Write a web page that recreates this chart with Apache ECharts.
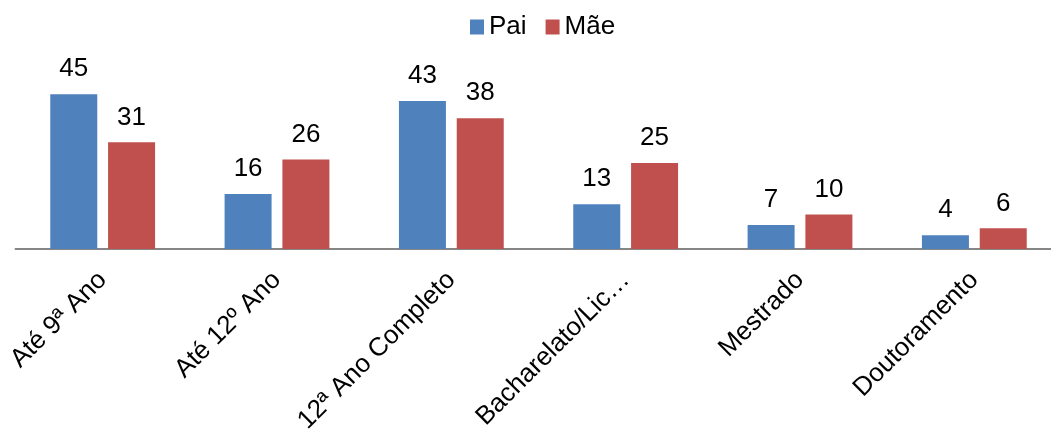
<!DOCTYPE html>
<html><head><meta charset="utf-8">
<script src="https://cdn.jsdelivr.net/npm/echarts@6/dist/echarts.min.js"></script>
<style>html,body{margin:0;padding:0;background:#fff}#c{width:1051px;height:430px}</style>
</head><body><div id="c"></div>
<script>
const categories = ['Até 9ª Ano', 'Até 12º Ano', '12ª Ano Completo', 'Bacharelato/Lic…', 'Mestrado', 'Doutoramento'];
const pai = [45, 16, 43, 13, 7, 4];
const mae = [31, 26, 38, 25, 10, 6];
const seriesNames = ['Pai', 'Mãe'];

const font = 'Arial, "Liberation Sans", sans-serif';
const chart = echarts.init(document.getElementById('c'));
const lbl = {show: true, position: 'top', distance: 12, color: '#000', fontSize: 26, fontFamily: font};
chart.setOption({
  animation: false,
  legend: {
    top: 9, left: 465, itemWidth: 14, itemHeight: 15, itemGap: 19,
    textStyle: {fontSize: 26, fontFamily: font, color: '#000'},
    data: seriesNames, icon: 'rect'
  },
  grid: {left: 15.5, width: 1046, top: 77, bottom: 181, containLabel: false, outerBoundsMode: 'none'},
  xAxis: {
    type: 'category', data: categories,
    axisLine: {lineStyle: {color: '#868686', width: 2}},
    axisTick: {show: false},
    axisLabel: {rotate: 45, interval: 0, margin: 27, fontSize: 26, fontFamily: font, color: '#000'}
  },
  yAxis: {type: 'value', min: 0, max: 50, show: false, splitLine: {show: false}},
  series: [
    {name: seriesNames[0], type: 'bar', data: pai, barWidth: 47, barGap: '23%', itemStyle: {color: '#4F81BD'}, label: lbl},
    {name: seriesNames[1], type: 'bar', data: mae, barWidth: 47, barGap: '23%', itemStyle: {color: '#C0504D'}, label: lbl}
  ]
});
</script></body></html>
